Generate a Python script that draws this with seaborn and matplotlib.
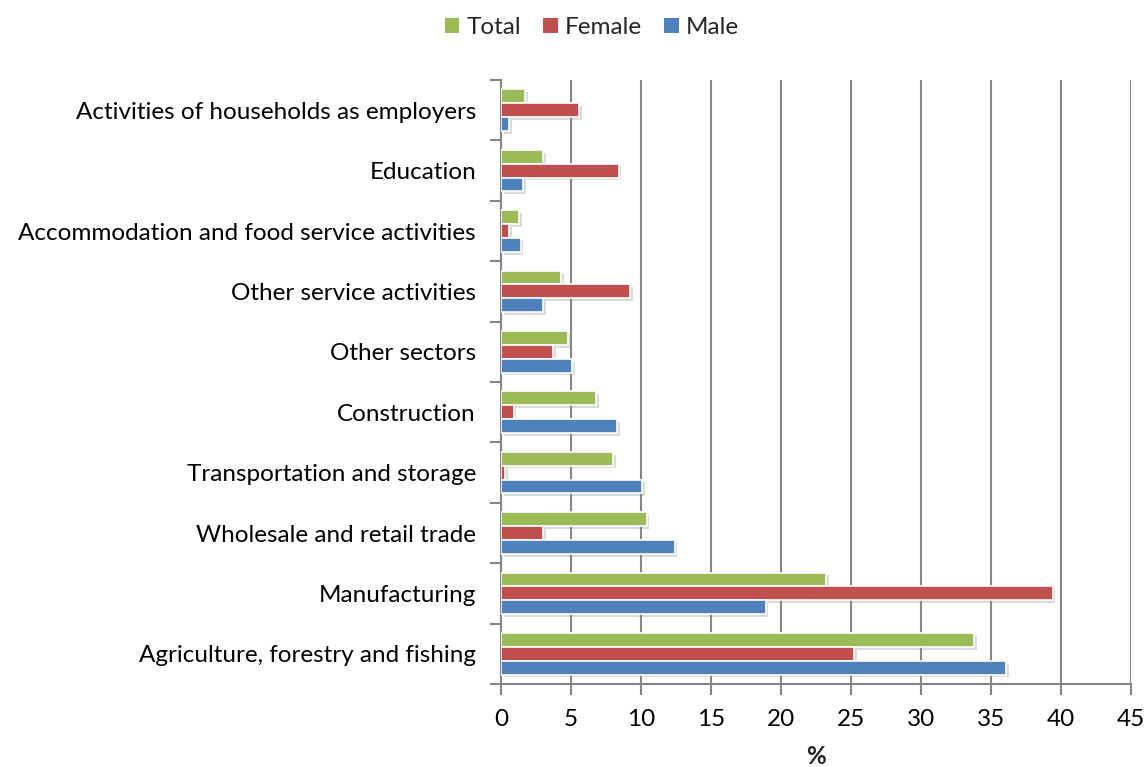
import matplotlib
matplotlib.use("Agg")
import matplotlib.pyplot as plt
import matplotlib.patheffects as pe
from matplotlib.patches import Patch
from matplotlib.ticker import FixedLocator
import seaborn as sns
import pandas as pd

sectors = [
    "Activities of households as employers",
    "Education",
    "Accommodation and food service activities",
    "Other service activities",
    "Other sectors",
    "Construction",
    "Transportation and storage",
    "Wholesale and retail trade",
    "Manufacturing",
    "Agriculture, forestry and fishing",
]
total = [1.7, 3.0, 1.3, 4.3, 4.8, 6.8, 8.0, 10.4, 23.2, 33.8]
female = [5.6, 8.4, 0.6, 9.2, 3.7, 0.9, 0.3, 3.0, 39.4, 25.2]
male = [0.6, 1.6, 1.4, 3.0, 5.1, 8.3, 10.1, 12.4, 18.9, 36.1]

groups = ["Total", "Female", "Male"]
palette = {"Total": "#9BBB59", "Female": "#C0504D", "Male": "#4F81BD"}

df = pd.DataFrame({
    "sector": sectors * 3,
    "group": ["Total"] * len(sectors) + ["Female"] * len(sectors) + ["Male"] * len(sectors),
    "value": total + female + male,
})

sns.set_style("white")
plt.rcParams["font.family"] = ["Lato", "DejaVu Sans"]
FS = 17.5

fig = plt.figure(figsize=(11.45, 7.67), dpi=100)
ax = fig.add_axes([501 / 1145, 1 - 684 / 767, 630 / 1145, 604 / 767])

sns.barplot(
    data=df, y="sector", x="value", hue="group",
    order=sectors, hue_order=groups, palette=palette,
    orient="h", width=0.69, saturation=1, ax=ax,
    edgecolor="white", linewidth=1.2, legend=False,
)

shadow = [pe.SimplePatchShadow(offset=(2, -2), alpha=0.3, shadow_rgbFace="#8a8a8a"), pe.Normal()]
for p in ax.patches:
    p.set_path_effects(shadow)
    p.set_zorder(3)

ax.set_xlim(0, 45)
ax.set_ylim(len(sectors) - 0.5, -0.5)
ax.set_xticks(range(0, 46, 5))
ax.xaxis.grid(True, color="#868686", linewidth=1.5, zorder=0)
ax.yaxis.grid(False)
ax.set_axisbelow(True)

for side in ["top", "right"]:
    ax.spines[side].set_visible(False)
for side in ["left", "bottom"]:
    ax.spines[side].set_color("#868686")
    ax.spines[side].set_linewidth(1.5)

ax.yaxis.set_minor_locator(FixedLocator([i - 0.5 for i in range(len(sectors) + 1)]))
ax.tick_params(axis="y", which="major", length=0, pad=18, labelsize=FS, labelcolor="black")
ax.tick_params(axis="y", which="minor", length=8, width=1.5, color="#868686", left=True)
ax.tick_params(axis="x", which="major", length=8, width=1.5, color="#868686",
               bottom=True, pad=10, labelsize=FS, labelcolor="black")

ax.set_ylabel("")
ax.set_xlabel("%", fontsize=FS, fontweight="bold", labelpad=11)

handles = [Patch(facecolor=palette[g], edgecolor="none", label=g) for g in groups]
fig.legend(
    handles=handles, loc="upper center", bbox_to_anchor=(592 / 1145, 1.006),
    ncol=3, frameon=False, fontsize=FS, handlelength=0.6, handleheight=0.6,
    handletextpad=0.3, columnspacing=0.9,
)

fig.savefig("out.png", dpi=100)
